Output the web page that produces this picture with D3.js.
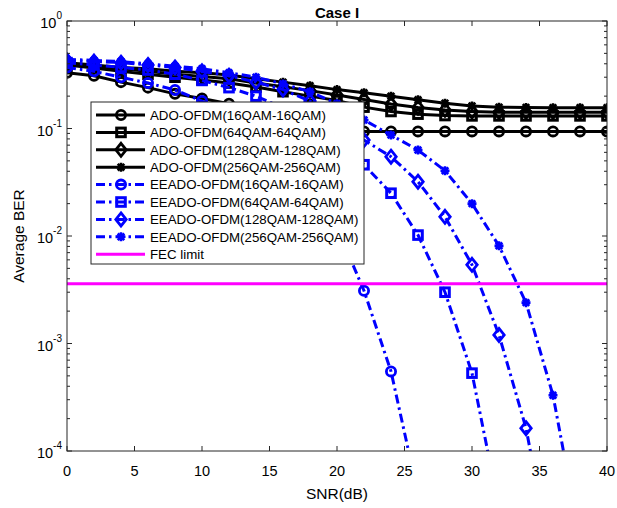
<!DOCTYPE html>
<html>
<head>
<meta charset="utf-8">
<script src="https://cdn.jsdelivr.net/npm/d3@7"></script>
<style>
  body { margin: 0; background: #fff; }
  text { font-family: "Liberation Sans", Arial, sans-serif; fill: #000; }
</style>
</head>
<body>
<div id="chart"></div>
<script>
// SNR points (dB)
var snr = [0, 2, 4, 6, 8, 10, 12, 14, 16, 18, 20, 22, 24, 26, 28, 30, 32, 34, 36, 38, 40];

// ADO-OFDM (solid black)
var ado16  = [0.33, 0.31, 0.27, 0.24, 0.21, 0.19, 0.17, 0.15, 0.13, 0.115, 0.102, 0.094, 0.094, 0.094, 0.094, 0.094, 0.094, 0.094, 0.094, 0.094, 0.094];
var ado64  = [0.39, 0.365, 0.34, 0.32, 0.30, 0.283, 0.265, 0.243, 0.22, 0.20, 0.182, 0.158, 0.144, 0.136, 0.132, 0.131, 0.131, 0.131, 0.131, 0.131, 0.131];
var ado128 = [0.40, 0.38, 0.36, 0.34, 0.32, 0.305, 0.29, 0.265, 0.245, 0.225, 0.205, 0.186, 0.169, 0.157, 0.149, 0.144, 0.142, 0.142, 0.142, 0.142, 0.142];
var ado256 = [0.41, 0.39, 0.37, 0.36, 0.34, 0.33, 0.315, 0.29, 0.27, 0.25, 0.23, 0.215, 0.20, 0.185, 0.172, 0.162, 0.158, 0.157, 0.156, 0.156, 0.156];

// EEADO-OFDM (blue dash-dot), stops after falling below 1e-4
var ee16  = [0.37, 0.34, 0.30, 0.265, 0.228, 0.18, 0.14, 0.10, 0.062, 0.031, 0.012, 0.0031, 5.5e-4, 4e-5];
var ee64  = [0.41, 0.39, 0.37, 0.35, 0.32, 0.28, 0.24, 0.20, 0.155, 0.11, 0.075, 0.046, 0.025, 0.0102, 0.003, 5.3e-4, 3e-5];
var ee128 = [0.43, 0.42, 0.41, 0.39, 0.37, 0.34, 0.31, 0.27, 0.23, 0.18, 0.12, 0.078, 0.0547, 0.032, 0.0151, 0.0054, 0.0012, 1.63e-4, 8e-6];
var ee256 = [0.44, 0.43, 0.42, 0.40, 0.38, 0.36, 0.33, 0.30, 0.26, 0.22, 0.17, 0.12, 0.087, 0.063, 0.0405, 0.020, 0.0081, 0.0024, 3.3e-4, 1.5e-5];

var fecLimit = 3.6e-3;

var names = ["ADO-OFDM(16QAM-16QAM)", "ADO-OFDM(64QAM-64QAM)", "ADO-OFDM(128QAM-128QAM)", "ADO-OFDM(256QAM-256QAM)",
             "EEADO-OFDM(16QAM-16QAM)", "EEADO-OFDM(64QAM-64QAM)", "EEADO-OFDM(128QAM-128QAM)", "EEADO-OFDM(256QAM-256QAM)"];
var xTicks = [0, 5, 10, 15, 20, 25, 30, 35, 40];
var yTicks = [1e-4, 1e-3, 1e-2, 1e-1, 1];

var W = 617, H = 508;
var margin = {top: 21, right: 10, bottom: 57, left: 67};
var pw = W - margin.left - margin.right,
    ph = H - margin.top - margin.bottom;

var svg = d3.select("#chart").append("svg")
    .attr("width", W).attr("height", H);

var x = d3.scaleLinear().domain([0, 40]).range([margin.left, margin.left + pw]);
var y = d3.scaleLog().domain([1e-4, 1]).range([margin.top + ph, margin.top]);

svg.append("defs").append("clipPath").attr("id", "clip")
  .append("rect").attr("x", margin.left).attr("y", margin.top)
  .attr("width", pw).attr("height", ph);

var blueDash = "9,4,2.5,4";
var series = [
  {name: names[0], vals: ado16,  color: "#000", dash: null, marker: "circle"},
  {name: names[1], vals: ado64,  color: "#000", dash: null, marker: "square"},
  {name: names[2], vals: ado128, color: "#000", dash: null, marker: "diamond"},
  {name: names[3], vals: ado256, color: "#000", dash: null, marker: "star"},
  {name: names[4], vals: ee16,   color: "#0000ff", dash: blueDash, marker: "circle"},
  {name: names[5], vals: ee64,   color: "#0000ff", dash: blueDash, marker: "square"},
  {name: names[6], vals: ee128,  color: "#0000ff", dash: blueDash, marker: "diamond"},
  {name: names[7], vals: ee256,  color: "#0000ff", dash: blueDash, marker: "star"}
];

function drawMarker(sel, type, color) {
  if (type == "circle") {
    sel.append("circle").attr("r", 4.6)
      .attr("fill", "none").attr("stroke", color).attr("stroke-width", 2.8);
  } else if (type == "square") {
    sel.append("rect").attr("x", -4.3).attr("y", -4.3).attr("width", 8.6).attr("height", 8.6)
      .attr("fill", "none").attr("stroke", color).attr("stroke-width", 3);
  } else if (type == "diamond") {
    sel.append("path").attr("d", "M0,-6.5L5.2,0L0,6.5L-5.2,0Z")
      .attr("fill", "none").attr("stroke", color).attr("stroke-width", 2.8);
  } else {
    sel.append("path").attr("d", "M-4.5,0H4.5M0,-4.5V4.5M-3.3,-3.3L3.3,3.3M-3.3,3.3L3.3,-3.3")
      .attr("fill", "none").attr("stroke", color).attr("stroke-width", 2.6);
  }
}

var plot = svg.append("g").attr("clip-path", "url(#clip)");
var line = d3.line().x(function(d) { return x(d[0]); }).y(function(d) { return y(d[1]); });

series.forEach(function(s) {
  var pts = s.vals.map(function(v, i) { return [snr[i], v]; });
  plot.append("path").datum(pts)
    .attr("d", line)
    .attr("fill", "none")
    .attr("stroke", s.color)
    .attr("stroke-width", 3)
    .attr("stroke-dasharray", s.dash);
  pts.forEach(function(p) {
    if (p[1] < 1e-4) return;
    var g = plot.append("g").attr("transform", "translate(" + x(p[0]) + "," + y(p[1]) + ")");
    drawMarker(g, s.marker, s.color);
  });
});

// FEC limit
plot.append("line")
  .attr("x1", margin.left).attr("x2", margin.left + pw)
  .attr("y1", y(fecLimit)).attr("y2", y(fecLimit))
  .attr("stroke", "#ff00ff").attr("stroke-width", 3);

// axes box & ticks (inside, mirrored)
var axisColor = "#262626";
var axes = svg.append("g");
axes.append("rect").attr("x", margin.left).attr("y", margin.top)
  .attr("width", pw).attr("height", ph)
  .attr("fill", "none").attr("stroke", axisColor).attr("stroke-width", 1);

xTicks.forEach(function(t) {
  axes.append("line").attr("x1", x(t)).attr("x2", x(t))
    .attr("y1", margin.top + ph).attr("y2", margin.top + ph - 5)
    .attr("stroke", axisColor);
  axes.append("line").attr("x1", x(t)).attr("x2", x(t))
    .attr("y1", margin.top).attr("y2", margin.top + 5)
    .attr("stroke", axisColor);
  axes.append("text").attr("x", x(t)).attr("y", margin.top + ph + 25)
    .attr("text-anchor", "middle").style("font-size", "14.5px").text(t);
});

var minor = [];
yTicks.slice(0, -1).forEach(function(t) {
  for (var k = 2; k <= 9; k++) minor.push(t * k);
});
minor.forEach(function(t) {
  axes.append("line").attr("x1", margin.left).attr("x2", margin.left + 3)
    .attr("y1", y(t)).attr("y2", y(t)).attr("stroke", axisColor);
  axes.append("line").attr("x1", margin.left + pw).attr("x2", margin.left + pw - 3)
    .attr("y1", y(t)).attr("y2", y(t)).attr("stroke", axisColor);
});
yTicks.forEach(function(t) {
  axes.append("line").attr("x1", margin.left).attr("x2", margin.left + 5)
    .attr("y1", y(t)).attr("y2", y(t)).attr("stroke", axisColor);
  axes.append("line").attr("x1", margin.left + pw).attr("x2", margin.left + pw - 5)
    .attr("y1", y(t)).attr("y2", y(t)).attr("stroke", axisColor);
  var lab = axes.append("text").attr("x", margin.left - 5).attr("y", y(t) + 7)
    .attr("text-anchor", "end").style("font-size", "14.5px");
  lab.append("tspan").text("10");
  lab.append("tspan").attr("dy", -9).style("font-size", "10px").text(Math.round(Math.log10(t)));
});

// labels
svg.append("text").attr("x", margin.left + pw / 2).attr("y", 18)
  .attr("text-anchor", "middle").style("font-size", "15px").style("font-weight", "bold")
  .text("Case I");
svg.append("text").attr("x", margin.left + pw / 2).attr("y", 499)
  .attr("text-anchor", "middle").style("font-size", "15.5px").text("SNR(dB)");
svg.append("text").attr("transform", "translate(24," + (margin.top + ph / 2) + ") rotate(-90)")
  .attr("text-anchor", "middle").style("font-size", "15.5px").text("Average BER");

// legend
var lg = svg.append("g").attr("transform", "translate(91,102)");
lg.append("rect").attr("width", 273).attr("height", 162)
  .attr("fill", "#fff").attr("stroke", axisColor).attr("stroke-width", 1);
var rowH = 17.4;
series.concat([{name: "FEC limit", color: "#ff00ff", dash: null, marker: null}]).forEach(function(s, i) {
  var ry = 13 + i * rowH;
  lg.append("line").attr("x1", 5).attr("x2", 54).attr("y1", ry).attr("y2", ry)
    .attr("stroke", s.color).attr("stroke-width", 3).attr("stroke-dasharray", s.dash);
  if (s.marker) {
    var g = lg.append("g").attr("transform", "translate(30," + ry + ")");
    drawMarker(g, s.marker, s.color);
  }
  lg.append("text").attr("x", 59).attr("y", ry + 4.8)
    .style("font-size", "13.3px").text(s.name);
});
</script>
</body>
</html>
